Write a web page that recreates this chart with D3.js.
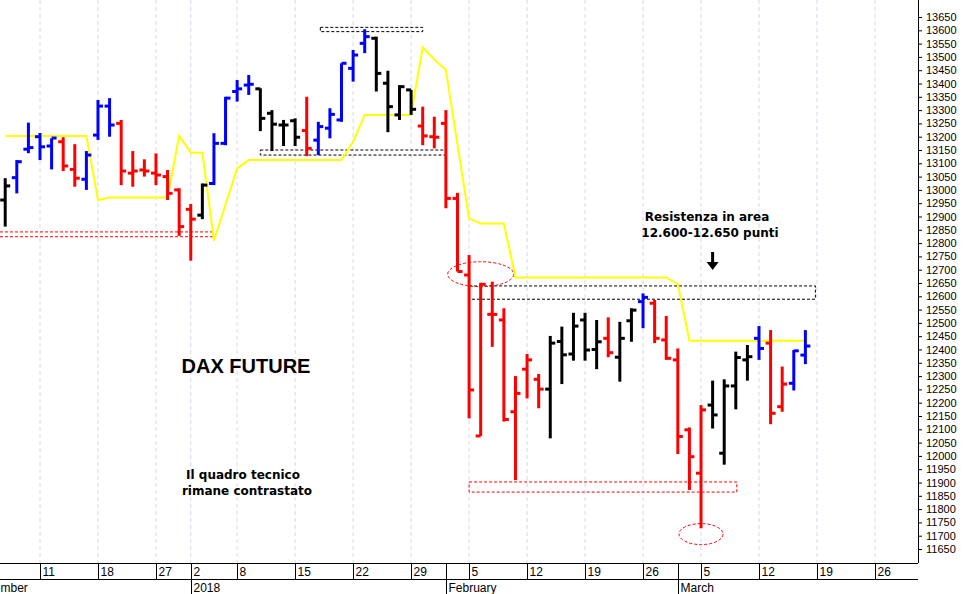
<!DOCTYPE html>
<html><head><meta charset="utf-8">
<script src="https://cdn.jsdelivr.net/npm/d3@7"></script>
<style>body{margin:0;background:#fff}svg{display:block}</style>
</head><body>
<svg id="c" width="966" height="594"></svg>
<script>
// ---- data ----
const dates = ["2017-12-06","2017-12-07","2017-12-08","2017-12-11","2017-12-12","2017-12-13","2017-12-14","2017-12-15","2017-12-18","2017-12-19","2017-12-20","2017-12-21","2017-12-22","2017-12-27","2017-12-28","2017-12-29","2018-01-02","2018-01-03","2018-01-04","2018-01-05","2018-01-08","2018-01-09","2018-01-10","2018-01-11","2018-01-12","2018-01-15","2018-01-16","2018-01-17","2018-01-18","2018-01-19","2018-01-22","2018-01-23","2018-01-24","2018-01-25","2018-01-26","2018-01-29","2018-01-30","2018-01-31","2018-02-01","2018-02-02","2018-02-05","2018-02-06","2018-02-07","2018-02-08","2018-02-09","2018-02-12","2018-02-13","2018-02-14","2018-02-15","2018-02-16","2018-02-19","2018-02-20","2018-02-21","2018-02-22","2018-02-23","2018-02-26","2018-02-27","2018-02-28","2018-03-01","2018-03-02","2018-03-05","2018-03-06","2018-03-07","2018-03-08","2018-03-09","2018-03-12","2018-03-13","2018-03-14","2018-03-15","2018-03-16"];
const futureDates = ["2018-03-19","2018-03-20","2018-03-21","2018-03-22","2018-03-23","2018-03-26","2018-03-27","2018-03-28","2018-03-29"];
const open  = [12962,13046,13153,13200,13165,13181,13077,13040,13206,13315,13250,13063,13075,13063,13050,13000,12927,12905,13024,13175,13370,13394,13380,13288,13244,13260,13223,13187,13232,13263,13457,13551,13570,13401,13282,13376,13240,13200,13250,12968,12680,12075,12532,12511,12166,12326,12288,12251,12430,12383,12511,12400,12442,12371,12508,12580,12574,12436,12361,12098,11935,12191,12010,12263,12361,12442,12424,12185,12273,12379];
const high  = [13044,13112,13253,13214,13194,13198,13172,13146,13338,13345,13263,13146,13115,13137,13075,13006,12947,13024,13213,13350,13413,13432,13382,13300,13263,13269,13350,13256,13307,13476,13526,13604,13576,13448,13394,13376,13313,13275,13300,12989,12755,12651,12655,12555,12300,12383,12308,12451,12486,12538,12538,12511,12521,12504,12555,12611,12586,12526,12404,12107,12191,12283,12288,12392,12417,12488,12473,12336,12398,12473];
const low   = [12862,12987,13138,13112,13077,13071,13012,13000,13188,13200,13018,13012,13050,13018,12962,12827,12734,12890,13018,13168,13332,13357,13221,13146,13165,13165,13127,13131,13194,13256,13407,13514,13370,13217,13263,13282,13168,13156,12931,12693,12141,12075,12410,12129,11909,12216,12179,12066,12270,12358,12358,12326,12371,12279,12429,12480,12424,12361,12007,11872,11728,12103,11967,12175,12283,12361,12119,12166,12246,12345];
const close = [13015,13106,13159,13162,13195,13090,13044,13131,13315,13244,13071,13071,13071,13056,12987,12862,12890,13018,13175,13345,13380,13397,13269,13247,13244,13198,13156,13238,13284,13476,13507,13576,13438,13313,13388,13303,13203,13198,12968,12693,12248,12645,12532,12137,12235,12361,12251,12424,12380,12488,12398,12429,12388,12442,12548,12596,12442,12367,12073,11997,12173,12154,12263,12370,12373,12404,12160,12270,12395,12413];
const barColor = ["k","b","b","b","b","r","r","b","b","b","r","r","r","r","r","r","r","k","b","b","b","b","k","k","k","k","r","b","b","b","b","b","k","k","k","k","r","r","r","r","r","r","r","r","r","r","r","k","k","k","k","k","r","k","k","b","r","r","r","r","r","k","k","k","k","b","r","r","b","b"];
const stopLine = [13203,13203,13203,13203,13203,13203,13203,13203,12962,12971,12971,12971,12971,12971,12971,13203,13140,13140,12809,12945,13081,13112,13112,13112,13112,13112,13112,13112,13112,13112,13181,13282,13282,13282,13282,13282,13536,13490,13451,13170,12893,12874,12874,12874,12671,12671,12671,12671,12671,12671,12671,12671,12671,12671,12671,12671,12671,12671,12646,12433,12433,12433,12433,12433,12433,12433,12433,12433,12433,12433];
const dayTicks = [["2017-12-11","11"],["2017-12-18","18"],["2017-12-27","27"],["2018-01-02","2"],["2018-01-08","8"],["2018-01-15","15"],["2018-01-22","22"],["2018-01-29","29"],["2018-02-05","5"],["2018-02-12","12"],["2018-02-19","19"],["2018-02-26","26"],["2018-03-05","5"],["2018-03-12","12"],["2018-03-19","19"],["2018-03-26","26"]];
const monthTicks = [[-3,"December"],["2018-01-02","2018"],["2018-02-01","February"],["2018-03-01","March"]];
const yTicks = d3.range(11650, 13651, 50);

// ---- scales ----
const allDates = dates.concat(futureDates);
const idx = d => typeof d === "number" ? d : allDates.indexOf(d);
const x = d3.scaleLinear().domain([3, 65]).range([40, 759]);
const y = d3.scaleLinear().domain([11650, 13650]).range([549, 17]);
const svg = d3.select("#c");
const colors = {k:"#000", b:"#0000ff", r:"#ff0000"};
const axX = 918, axY = 563;

// grid
svg.append("g").selectAll("line").data(dayTicks).join("line")
  .attr("x1", d => x(idx(d[0]))).attr("x2", d => x(idx(d[0])))
  .attr("y1", 0).attr("y2", axY)
  .attr("stroke", "#d8d8f0").attr("stroke-dasharray", "4,3");

// dashed boxes / lines
const g = svg.append("g").attr("fill", "none").attr("stroke-dasharray", "3,2").attr("stroke-width", 1);
g.append("line").attr("x1",0).attr("x2",x(idx("2018-01-04"))).attr("y1",y(12842)).attr("y2",y(12842)).attr("stroke","red");
g.append("line").attr("x1",0).attr("x2",x(idx("2018-01-04"))).attr("y1",y(12824)).attr("y2",y(12824)).attr("stroke","red");
g.append("rect").attr("x",x(idx("2018-01-17"))+2).attr("y",y(13611)).attr("width",x(idx("2018-01-30"))-x(idx("2018-01-17"))-2).attr("height",y(13595)-y(13611)).attr("stroke","#000");
g.append("rect").attr("x",x(idx("2018-01-10"))).attr("y",y(13150)).attr("width",x(idx("2018-02-01"))-x(idx("2018-01-10"))).attr("height",y(13131)-y(13150)).attr("stroke","#000");
g.append("rect").attr("x",x(idx("2018-02-05"))).attr("y",y(12639)).attr("width",x(idx("2018-03-16"))+10-x(idx("2018-02-05"))).attr("height",y(12589)-y(12639)).attr("stroke","#000");
g.append("rect").attr("x",x(idx("2018-02-05"))).attr("y",y(11902)).attr("width",x(idx("2018-03-08"))+1-x(idx("2018-02-05"))).attr("height",y(11864)-y(11902)).attr("stroke","red");
g.append("ellipse").attr("cx",x(idx("2018-02-06"))).attr("cy",y(12683)).attr("rx",33).attr("ry",12.5).attr("stroke","red");
g.append("ellipse").attr("cx",x(idx("2018-03-05"))).attr("cy",y(11706)).attr("rx",22).attr("ry",10.5).attr("stroke","red");

// stop line
svg.append("path").datum(stopLine)
  .attr("d", d3.line().x((d,i) => x(i)).y(d => y(d)))
  .attr("fill","none").attr("stroke","#ffff00").attr("stroke-width",2);

// bars
const bars = svg.append("g").selectAll("g").data(dates).join("g")
  .attr("stroke", (d,i) => colors[barColor[i]]).attr("stroke-width", 3);
bars.append("line").attr("x1",(d,i)=>x(i)).attr("x2",(d,i)=>x(i)).attr("y1",(d,i)=>y(high[i])).attr("y2",(d,i)=>y(low[i]));
bars.append("line").attr("x1",(d,i)=>x(i)-5).attr("x2",(d,i)=>x(i)).attr("y1",(d,i)=>y(open[i])).attr("y2",(d,i)=>y(open[i]));
bars.append("line").attr("x1",(d,i)=>x(i)).attr("x2",(d,i)=>x(i)+5).attr("y1",(d,i)=>y(close[i])).attr("y2",(d,i)=>y(close[i]));

// y axis
svg.append("rect").attr("x",axX).attr("y",0).attr("width",966-axX).attr("height",594).attr("fill","#fff");
svg.append("rect").attr("x",0).attr("y",axY).attr("width",966).attr("height",31).attr("fill","#fff");
const ya = svg.append("g").attr("transform",`translate(${axX},0)`)
  .call(d3.axisRight(y).tickValues(yTicks).tickSize(4).tickFormat(d3.format("d")));
ya.select(".domain").remove();
ya.selectAll("text").attr("font-family","Liberation Sans, Arial").attr("font-size",11).attr("fill","#000").attr("x",8);
svg.append("line").attr("x1",axX+0.5).attr("x2",axX+0.5).attr("y1",0).attr("y2",axY).attr("stroke","#000");

// x axis
svg.append("line").attr("x1",0).attr("x2",axX).attr("y1",axY+0.5).attr("y2",axY+0.5).attr("stroke","#000");
svg.append("line").attr("x1",0).attr("x2",axX).attr("y1",579.5).attr("y2",579.5).attr("stroke","#000");
const xa = svg.append("g").attr("font-family","Liberation Sans Narrow, Arial Narrow, Liberation Sans").attr("font-size",12);
dayTicks.forEach(d => {
  const px = Math.round(x(idx(d[0]))) + 0.5;
  xa.append("line").attr("x1",px).attr("x2",px).attr("y1",axY).attr("y2",579).attr("stroke","#000");
  xa.append("text").attr("x",px+2).attr("y",576).text(d[1]);
});
monthTicks.forEach(d => {
  const px = Math.round(x(idx(d[0]))) + 0.5;
  xa.append("line").attr("x1",px).attr("x2",px).attr("y1",axY).attr("y2",594).attr("stroke","#000");
  xa.append("text").attr("x",px+2).attr("y",592).text(d[1]);
});

// annotations
const t = svg.append("g").attr("font-family","DejaVu Sans, Verdana").attr("font-weight","bold").attr("font-size",12).attr("text-anchor","middle");
t.append("text").attr("x",707).attr("y",221).text("Resistenza in area");
t.append("text").attr("x",710).attr("y",237).text("12.600-12.650 punti");
t.append("text").attr("x",243).attr("y",479).text("Il quadro tecnico");
t.append("text").attr("x",247).attr("y",495).text("rimane contrastato");
svg.append("text").attr("x",246).attr("y",373).attr("text-anchor","middle").attr("font-family","Liberation Sans, Arial").attr("font-weight","bold").attr("font-size",20).text("DAX FUTURE");
// arrow
const ax = x(idx("2018-03-06"));
svg.append("line").attr("x1",ax).attr("x2",ax).attr("y1",252).attr("y2",264).attr("stroke","#000").attr("stroke-width",3);
svg.append("path").attr("d",`M${ax-6},262 L${ax+6},262 L${ax},270 Z`).attr("fill","#000");
</script>
</body></html>
